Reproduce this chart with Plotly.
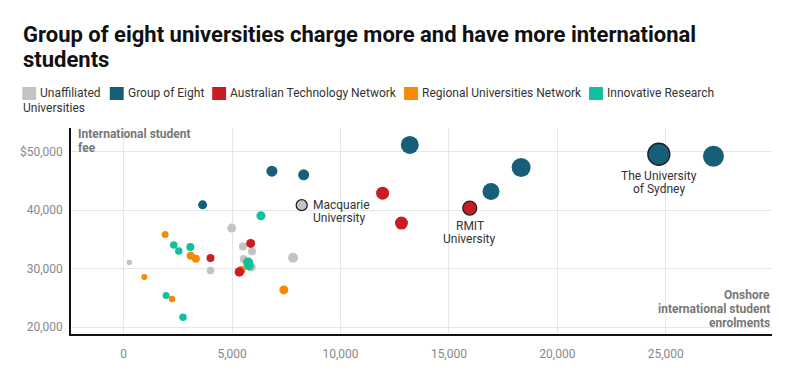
import plotly.graph_objects as go

# ---- data ----
groups = ["Unaffiliated", "Group of Eight", "Australian Technology Network",
          "Regional Universities Network", "Innovative Research Universities"]
colors = {"Unaffiliated": "#c4c4c4", "Group of Eight": "#175e78",
          "Australian Technology Network": "#c81e23",
          "Regional Universities Network": "#f58a07",
          "Innovative Research Universities": "#0fbf9d"}

unaff_x = [260, 4985, 5500, 5920, 5535, 5885, 4005, 7810, 8210]
unaff_y = [31070, 36950, 33800, 32950, 31650, 30280, 29700, 31870, 40880]
unaff_s = [5.5, 9, 8, 8, 8, 9, 7.5, 10, 11]
unaff_hl = [False, False, False, False, False, False, False, False, True]

go8_x = [3640, 6835, 8300, 13195, 16940, 18330, 24680, 27200]
go8_y = [40930, 46700, 46070, 51200, 43210, 47320, 49600, 49260]
go8_s = [9, 11, 11, 18, 17, 19, 22, 21]
go8_hl = [False, False, False, False, False, False, True, False]

atn_x = [4005, 5855, 5335, 11940, 12810, 15960]
atn_y = [31820, 34320, 29430, 42930, 37800, 40370]
atn_s = [8, 9, 9.5, 13, 13, 14]
atn_hl = [False, False, False, False, False, True]

run_x = [1910, 950, 2230, 3090, 3330, 5440, 7385]
run_y = [35860, 28570, 24810, 32220, 31700, 29820, 26350]
run_s = [7, 6, 6.5, 8, 8, 8, 9]
run_hl = [False] * 7

iru_x = [2310, 2540, 3075, 1955, 2735, 6330, 5735, 5780]
iru_y = [34040, 33020, 33700, 25380, 21660, 39060, 31070, 30510]
iru_s = [7.5, 7.5, 8, 7, 7.5, 9, 10, 9.5]
iru_hl = [False] * 8

series = {
    "Unaffiliated": (unaff_x, unaff_y, unaff_s, unaff_hl),
    "Group of Eight": (go8_x, go8_y, go8_s, go8_hl),
    "Australian Technology Network": (atn_x, atn_y, atn_s, atn_hl),
    "Regional Universities Network": (run_x, run_y, run_s, run_hl),
    "Innovative Research Universities": (iru_x, iru_y, iru_s, iru_hl),
}
draw_order = ["Unaffiliated", "Regional Universities Network",
              "Innovative Research Universities",
              "Australian Technology Network", "Group of Eight"]

# point labels: (lines, x, y, xshift, first-line yshift, xanchor)
labels = [
    (["Macquarie", "University"], 8210, 40880, 9, 0, "left"),
    (["RMIT", "University"], 15960, 40370, 0, -17.5, "center"),
    (["The University", "of Sydney"], 24680, 49600, 0, -21.5, "center"),
]

x_ticks = [0, 5000, 10000, 15000, 20000, 25000]
y_ticks = [20000, 30000, 40000, 50000]
y_ticktext = ["20,000", "30,000", "40,000", "$50,000"]

title_lines = ["Group of eight universities charge more and have more international",
               "students"]
legend_labels = ["Unaffiliated", "Group of Eight", "Australian Technology Network",
                 "Regional Universities Network", "Innovative Research"]
legend_wrap = "Universities"
y_title_lines = ["International student", "fee"]
x_title_lines = ["Onshore", "international student", "enrolments"]

# ---- geometry (page offset of 8px body margin) ----
FONT = "Roboto, Arial, sans-serif"
OFF = 8
W, H = 785, 368
L, R, T, B = 59, 21, 120, 42
PW, PH = W - L - R, H - T - B


def px2paper(px):
    return (px - OFF - L) / PW


def py2paper(py):
    return (H - B - (py - OFF)) / PH


fig = go.Figure()
for g in draw_order:
    xs, ys, ss, hl = series[g]
    fig.add_trace(go.Scatter(
        x=xs, y=ys, mode="markers", name=g, showlegend=False,
        marker=dict(size=ss, color=colors[g], opacity=1,
                    line=dict(color=["#222" if h else "rgba(0,0,0,0)" for h in hl],
                              width=[1.3 if h else 0 for h in hl])),
    ))

annotations = []
for lines, x, y, xs_, ys_, xa in labels:
    for i, ln in enumerate(lines):
        annotations.append(dict(text=ln, x=x, y=y, xref="x", yref="y",
                                xshift=xs_, yshift=ys_ - 13 * i, xanchor=xa,
                                yanchor="middle", showarrow=False,
                                font=dict(family=FONT, size=12, color="#333")))


def page_text(text, px, py, xanchor, size, color, bold=False):
    annotations.append(dict(text=f"<b>{text}</b>" if bold else text,
                            x=px2paper(px), y=py2paper(py),
                            xref="paper", yref="paper", xanchor=xanchor,
                            yanchor="middle", showarrow=False,
                            font=dict(family=FONT, size=size, color=color)))


# title
for i, ln in enumerate(title_lines):
    page_text(ln, 17, 34.5 + 25 * i, "left", 22, "#111", bold=True)

# axis titles
for i, ln in enumerate(y_title_lines):
    page_text(ln, 72, 134 + 14 * i, "left", 12, "#777", bold=True)
for i, ln in enumerate(x_title_lines):
    page_text(ln, 772, 294.5 + 14 * i, "right", 12, "#777", bold=True)

# manual legend
shapes = []
legend_sq_x = [18, 106, 209, 402, 588]
for txt, sx, g in zip(legend_labels, legend_sq_x, groups):
    shapes.append(dict(type="rect", xref="paper", yref="paper",
                       x0=px2paper(sx), x1=px2paper(sx + 14),
                       y0=py2paper(100), y1=py2paper(87),
                       fillcolor=colors[g], line=dict(width=0)))
    page_text(txt, sx + 16, 92.5, "left", 12, "#333")
page_text(legend_wrap, 17, 108.5, "left", 12, "#333")

fig.update_layout(
    width=W, height=H,
    margin=dict(l=L, r=R, t=T, b=B),
    paper_bgcolor="white", plot_bgcolor="white",
    font=dict(family=FONT, size=12, color="#888"),
    showlegend=False,
    annotations=annotations,
    shapes=shapes,
    xaxis=dict(range=[-2430, 29900], tickvals=x_ticks, tickformat=",",
               showgrid=True, gridcolor="#e6e6e6", zeroline=False,
               showline=True, linecolor="#111", linewidth=1.5,
               ticks="", tickfont=dict(size=12, color="#888"), ticklabelstandoff=8),
    yaxis=dict(range=[18800, 54100], tickvals=y_ticks, ticktext=y_ticktext,
               showgrid=True, gridcolor="#e6e6e6", zeroline=False,
               showline=True, linecolor="#111", linewidth=1.5,
               ticks="", tickfont=dict(size=12, color="#888"), ticklabelstandoff=4),
)
fig.write_html("out.html")
